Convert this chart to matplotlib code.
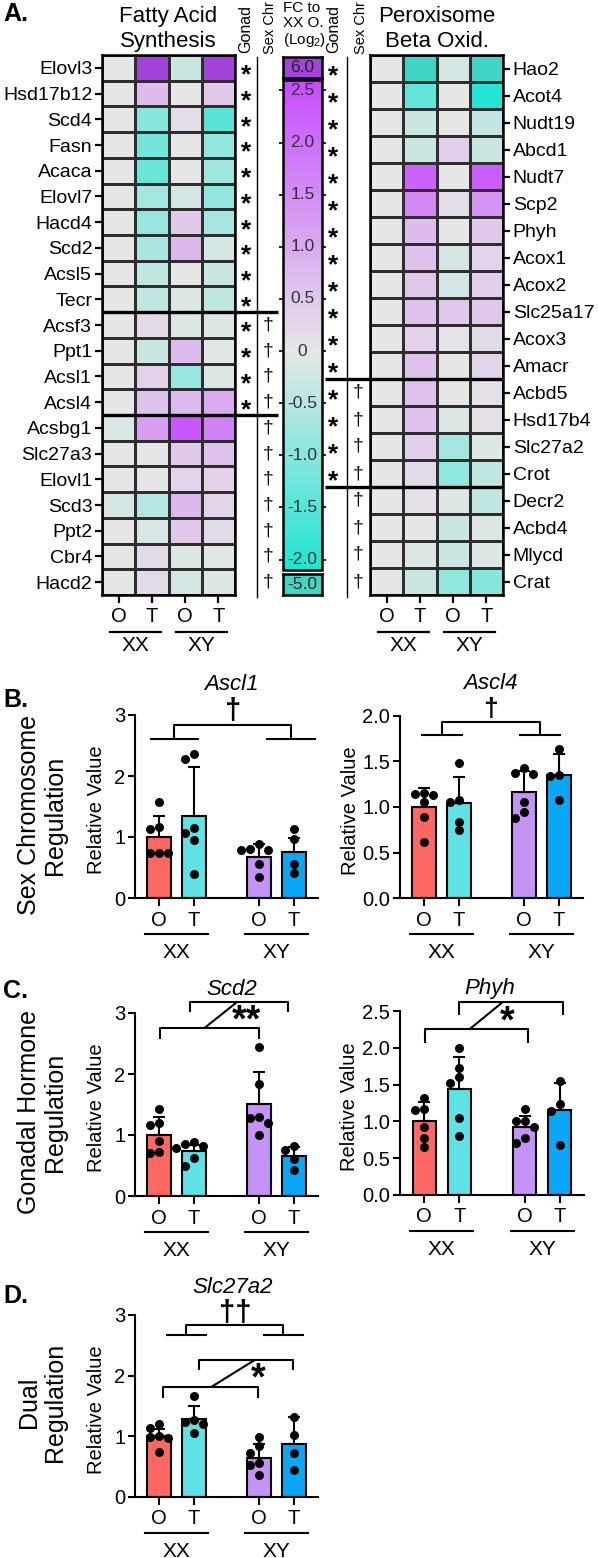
import numpy as np
import matplotlib
matplotlib.use("Agg")
import matplotlib.pyplot as plt
from matplotlib.colors import LinearSegmentedColormap, Normalize
from matplotlib.colorbar import Colorbar

plt.rcParams['font.family'] = ['Liberation Sans', 'DejaVu Sans']
plt.rcParams['mathtext.fontset'] = 'custom'
plt.rcParams['mathtext.rm'] = 'Liberation Sans'
plt.rcParams['mathtext.it'] = 'Liberation Sans:italic'

W, H = 598, 1558

# ---------------- data ----------------
treat_labels = ["O", "T", "O", "T"]
sex_labels = ["XX", "XY"]

fas_genes = ["Elovl3", "Hsd17b12", "Scd4", "Fasn", "Acaca", "Elovl7", "Hacd4",
             "Scd2", "Acsl5", "Tecr", "Acsf3", "Ppt1", "Acsl1", "Acsl4", "Acsbg1",
             "Slc27a3", "Elovl1", "Scd3", "Ppt2", "Cbr4", "Hacd2"]
# log2 FC to XX O  (columns: XX O, XX T, XY O, XY T)
fas_fc = [
    [0.0, 6.0, -0.3, 6.0],
    [0.0, 0.7, 0.0, 0.5],
    [0.0, -1.0, 0.15, -1.5],
    [0.0, -1.2, 0.0, -0.9],
    [0.0, -1.3, 0.0, -0.75],
    [0.0, -0.7, -0.2, -0.9],
    [0.0, -0.8, 0.5, -0.65],
    [0.0, -0.6, 0.8, -0.2],
    [0.0, -0.4, 0.0, -0.3],
    [0.0, -0.4, -0.1, -0.4],
    [0.0, 0.2, -0.1, -0.1],
    [0.0, -0.3, 0.7, -0.05],
    [0.0, 0.35, -0.8, -0.1],
    [0.0, 0.6, 0.7, 1.0],
    [-0.15, 1.2, 2.4, 1.7],
    [0.0, 0.0, 0.5, 0.6],
    [0.0, 0.0, 0.3, 0.35],
    [-0.2, -0.5, 0.8, 0.3],
    [0.0, -0.15, 0.5, 0.2],
    [0.0, 0.2, -0.1, -0.05],
    [0.0, 0.2, -0.2, -0.1],
]
fas_gonad = fas_genes[:14]
fas_sexchr = fas_genes[10:]

pbo_genes = ["Hao2", "Acot4", "Nudt19", "Abcd1", "Nudt7", "Scp2", "Phyh", "Acox1",
             "Acox2", "Slc25a17", "Acox3", "Amacr", "Acbd5", "Hsd17b4", "Slc27a2",
             "Crot", "Decr2", "Acbd4", "Mlycd", "Crat"]
pbo_fc = [
    [0.0, -5.0, -0.2, -5.0],
    [0.0, -1.4, 0.0, -2.05],
    [0.0, -0.3, 0.0, -0.4],
    [0.0, -0.3, 0.4, -0.3],
    [0.0, 2.2, 0.0, 2.3],
    [0.0, 1.6, 0.15, 1.4],
    [0.0, 0.7, 0.0, 0.5],
    [0.0, 0.6, -0.2, 0.3],
    [0.0, 0.5, -0.2, 0.4],
    [0.0, 0.6, 0.5, 0.5],
    [0.0, 0.35, 0.05, 0.2],
    [0.0, 0.6, 0.0, 0.3],
    [0.0, 0.6, 0.0, 0.1],
    [0.0, 0.6, -0.1, 0.1],
    [0.0, 0.4, -0.7, -0.1],
    [0.0, 0.2, -0.9, -0.4],
    [0.0, 0.1, -0.1, -0.4],
    [0.0, 0.0, -0.3, -0.1],
    [0.0, -0.1, -0.3, -0.1],
    [0.0, -0.3, -0.9, -1.0],
]
pbo_gonad = pbo_genes[:16]
pbo_sexchr = pbo_genes[12:]

cbar_ticks = [2.5, 2.0, 1.5, 1.0, 0.5, 0.0, -0.5, -1.0, -1.5, -2.0]
cbar_labels = ["2.5", "2.0", "1.5", "1.0", "0.5", "0", "-0.5", "-1.0", "-1.5", "-2.0"]
cbar_over_label = "6.0"
cbar_under_label = "-5.0"

# bar charts: points per group (XX O, XX T, XY O, XY T), mean, SD
ascl1_pts = [[1.57, 1.16, 1.13, 0.73, 0.73, 0.73],
             [2.36, 2.28, 1.14, 1.06, 0.95, 0.39],
             [0.88, 0.80, 0.78, 0.78, 0.56, 0.34],
             [1.13, 0.97, 0.56, 0.41]]
ascl1_mean = [1.0, 1.35, 0.68, 0.75]
ascl1_sd = [0.34, 0.79, 0.20, 0.23]

ascl4_pts = [[1.15, 1.14, 1.13, 1.05, 0.89, 0.62],
             [1.48, 1.08, 1.05, 0.84, 0.75],
             [1.43, 1.37, 1.36, 1.05, 0.95, 0.88],
             [1.64, 1.35, 1.34, 1.08]]
ascl4_mean = [1.0, 1.04, 1.17, 1.35]
ascl4_sd = [0.21, 0.29, 0.23, 0.23]

scd2_pts = [[1.42, 1.19, 1.16, 0.90, 0.72, 0.71],
            [0.88, 0.85, 0.82, 0.78, 0.63, 0.50],
            [2.45, 1.83, 1.30, 1.28, 1.20, 1.00],
            [0.82, 0.76, 0.60, 0.42]]
scd2_mean = [1.0, 0.74, 1.51, 0.65]
scd2_sd = [0.29, 0.10, 0.52, 0.15]

phyh_pts = [[1.32, 1.17, 1.16, 0.92, 0.78, 0.65],
            [2.00, 1.73, 1.60, 1.52, 1.04, 0.80],
            [1.17, 1.01, 1.00, 0.92, 0.78, 0.70],
            [1.55, 1.24, 1.14, 0.68]]
phyh_mean = [1.0, 1.44, 0.93, 1.15]
phyh_sd = [0.27, 0.44, 0.15, 0.37]

slc27a2_pts = [[1.21, 1.14, 1.00, 0.99, 0.98, 0.74],
               [1.67, 1.27, 1.24, 1.21, 1.06],
               [0.99, 0.84, 0.72, 0.56, 0.52, 0.36],
               [1.32, 1.03, 0.72, 0.44]]
slc27a2_mean = [1.0, 1.29, 0.65, 0.88]
slc27a2_sd = [0.12, 0.21, 0.23, 0.44]

bar_colors = ['#FF6762', '#5EE2E6', '#C592F7', '#0AA7F7']
xpos = np.array([0.0, 1.0, 2.857, 3.857])

# ---------------- helpers ----------------
cmap = LinearSegmentedColormap.from_list(
    'fc', [(0.0, '#1FE5D3'), (2.1 / 4.7, '#E6E6E6'), (1.0, '#C64CFF')])
cmap = cmap.with_extremes(over='#A244D9', under='#41D5C5')
norm = Normalize(vmin=-2.1, vmax=2.6)

fig = plt.figure(figsize=(W / 100, H / 100), dpi=100)


def box(l, t, w, h):
    return [l / W, 1 - (t + h) / H, w / W, h / H]


def ftext(x, y, s, **kw):
    fig.text(x / W, 1 - y / H, s, **kw)


def draw_heatmap(ax, genes, fc, gonad, sexchr, side):
    n = len(genes)
    ax.pcolormesh(np.asarray(fc, dtype=float), cmap=cmap, norm=norm,
                  edgecolors='#2e2e2e', linewidth=0.8)
    ax.set_xlim(0, 4)
    ax.set_ylim(n, 0)
    ax.set_yticks(np.arange(n) + 0.5)
    ax.set_yticklabels(genes, fontsize=14)
    ax.set_xticks(np.arange(4) + 0.5)
    ax.set_xticklabels(treat_labels, fontsize=14.5)
    ax.tick_params(axis='x', length=6, width=1.6, pad=3)
    ax.tick_params(axis='y', length=5, width=1.6, pad=2)
    for s in ax.spines.values():
        s.set_linewidth(1.8)
    if side == 'right':
        ax.yaxis.tick_right()
        star_x, line_x, dag_x, d0, d1 = -1.11, -0.69, -0.36, -1.35, 4.0
    else:
        star_x, line_x, dag_x, d0, d1 = 4.33, 4.66, 5.0, 0.0, 5.3
    for i, g in enumerate(genes):
        if g in gonad:
            ax.text(star_x, i + 0.8, '*', ha='center', va='center', fontsize=19,
                    fontweight='bold', clip_on=False)
        if g in sexchr:
            ax.text(dag_x, i + 0.5, '\u2020', ha='center', va='center', fontsize=14,
                    clip_on=False)
    ax.plot([line_x, line_x], [0.08, n + 0.08], color='black', lw=1.0, clip_on=False)
    pattern = [(g in gonad, g in sexchr) for g in genes]
    for i in range(1, n):
        if pattern[i] != pattern[i - 1]:
            ax.plot([d0, d1], [i, i], color='black', lw=2.4, clip_on=False,
                    solid_capstyle='butt')
    tr = ax.get_xaxis_transform()
    for c, lab in zip([1.0, 3.0], sex_labels):
        ax.plot([c - 0.76, c + 0.76], [-0.0685, -0.0685], color='black', lw=1.6,
                transform=tr, clip_on=False)
        ax.text(c, -0.094, lab, ha='center', va='center', fontsize=15, transform=tr)


def swarm(vals, px_y, px_x=35.0, diam=9.0):
    vals = np.asarray(vals)
    order = np.argsort(-vals, kind='stable')
    placed = []
    offs = np.zeros(len(vals))
    for i in order:
        y = vals[i] * px_y
        for k in [0, -1, 1, -2, 2, -3, 3]:
            x = k * diam
            if all((x - a) ** 2 + (y - b) ** 2 >= (diam * 0.9) ** 2 for a, b in placed):
                break
        placed.append((x, y))
        offs[i] = x / px_x
    return offs


def bar_panel(ax, pts, mean, sd, ymax, ystep, h_px, title, title_x, title_y):
    ax.bar(xpos, mean, width=0.66, color=bar_colors, edgecolor='black',
           linewidth=1.5, zorder=2)
    ax.errorbar(xpos, mean, yerr=[np.zeros(4), sd], fmt='none', ecolor='black',
                elinewidth=1.5, capsize=4, capthick=1.5, zorder=3)
    for xi, p in zip(xpos, pts):
        ax.scatter(xi + swarm(p, h_px / ymax), p, s=42, color='black', zorder=4,
                   clip_on=False, linewidths=0)
    ax.set_xlim(-0.686, 4.543)
    ax.set_ylim(0, ymax)
    ax.set_yticks(np.arange(0, ymax + 1e-9, ystep))
    ax.set_xticks(xpos)
    ax.set_xticklabels(treat_labels, fontsize=14.5)
    ax.tick_params(axis='y', labelsize=14.5, length=5, width=1.5, pad=2)
    ax.tick_params(axis='x', length=6, width=1.5, pad=3)
    for s in ['top', 'right']:
        ax.spines[s].set_visible(False)
    for s in ['left', 'bottom']:
        ax.spines[s].set_linewidth(1.5)
    tr = ax.get_xaxis_transform()
    for c, lab in zip([0.5, 3.357], sex_labels):
        ax.plot([c - 0.89, c + 0.89], [-0.197, -0.197], color='black', lw=1.5,
                transform=tr, clip_on=False)
        ax.text(c, -0.297, lab, ha='center', va='center', fontsize=15, transform=tr)
    ax.text(title_x, title_y, title, ha='center', va='center', fontsize=16,
            style='italic')


def line(ax, xs, ys):
    ax.plot(xs, ys, color='black', lw=1.5, clip_on=False, solid_capstyle='butt')


def sex_bracket(ax, left, right, y_low, y_high, mark, mark_y, size=21):
    line(ax, left, [y_low, y_low])
    line(ax, right, [y_low, y_low])
    lx, rx = np.mean(left), np.mean(right)
    line(ax, [lx, lx, rx, rx], [y_low, y_high, y_high, y_low])
    ax.text((lx + rx) / 2, mark_y, mark, ha='center', va='center', fontsize=size,
            fontweight='bold')


def gonad_bracket(ax, upper, yu, yu_leg, lower, yl, yl_leg, slash, mark, mark_xy):
    line(ax, [upper[0], upper[0], upper[1], upper[1]], [yu_leg, yu, yu, yu_leg])
    line(ax, [lower[0], lower[0], lower[1], lower[1]], [yl_leg, yl, yl, yl_leg])
    line(ax, [slash[0], slash[1]], [yl, yu])
    ax.text(mark_xy[0], mark_xy[1], mark, ha='center', va='center', fontsize=27,
            fontweight='bold')


# ---------------- panel A ----------------
ax_l = fig.add_axes(box(102, 55, 133, 540))
draw_heatmap(ax_l, fas_genes, fas_fc, fas_gonad, fas_sexchr, 'left')
ax_r = fig.add_axes(box(370, 55, 133, 540))
draw_heatmap(ax_r, pbo_genes, pbo_fc, pbo_gonad, pbo_sexchr, 'right')

cax = fig.add_axes(box(283, 80, 39, 490))
cb = Colorbar(cax, cmap=cmap, norm=norm, orientation='vertical')
cb.set_ticks(cbar_ticks)
cb.outline.set_linewidth(1.8)
cax.yaxis.set_ticks_position('both')
cax.tick_params(axis='y', which='both', direction='out', length=3, width=1.2,
                labelleft=False, labelright=False)
cax.minorticks_off()
for v, lab in zip(cbar_ticks, cbar_labels):
    cax.text(0.5, v, lab, ha='center', va='center', fontsize=12.5, color='#333333',
             transform=cax.get_yaxis_transform())

for t, lab, col in [(57, cbar_over_label, cmap.get_over()),
                    (574, cbar_under_label, cmap.get_under())]:
    bx = fig.add_axes(box(283, t, 39, 21))
    bx.set_facecolor(col)
    bx.set_xticks([])
    bx.set_yticks([])
    for s in bx.spines.values():
        s.set_linewidth(1.8)
    bx.text(0.5, 0.5, lab, ha='center', va='center', fontsize=12.5, color='#222222',
            transform=bx.transAxes)

ftext(3, 14, "A.", fontsize=18, fontweight='bold', va='center')
ftext(168, 29, "Fatty Acid\nSynthesis", fontsize=16, ha='center', va='center',
      linespacing=1.25)
ftext(437, 29, "Peroxisome\nBeta Oxid.", fontsize=16, ha='center', va='center',
      linespacing=1.25)
ftext(246, 53, "Gonad", fontsize=11.5, rotation=90, ha='center', va='bottom')
ftext(270, 54, "Sex Chr", fontsize=10.5, rotation=90, ha='center', va='bottom')
ftext(334, 53, "Gonad", fontsize=11.5, rotation=90, ha='center', va='bottom')
ftext(361, 54, "Sex Chr", fontsize=10.5, rotation=90, ha='center', va='bottom')
ftext(283, 1, "FC to\nXX O.\n(Log$_2$)", fontsize=11, ha='left', va='top',
      linespacing=1.1)

# ---------------- panel B ----------------
axb1 = fig.add_axes(box(135, 715, 183, 183))
bar_panel(axb1, ascl1_pts, ascl1_mean, ascl1_sd, 3, 1, 183, "Ascl1", 2.07, 3.5)
sex_bracket(axb1, [-0.26, 1.14], [3.06, 4.49], 2.6, 2.84, '\u2020', 3.07)

axb2 = fig.add_axes(box(400, 716, 183, 182))
bar_panel(axb2, ascl4_pts, ascl4_mean, ascl4_sd, 2.0, 0.5, 182, "Ascl4", 1.9, 2.36)
sex_bracket(axb2, [-0.09, 1.11], [2.71, 3.91], 1.79, 1.93, '\u2020', 2.08, size=19)

# ---------------- panel C ----------------
axc1 = fig.add_axes(box(135, 1013, 183, 183))
bar_panel(axc1, scd2_pts, scd2_mean, scd2_sd, 3, 1, 183, "Scd2", 2.09, 3.38)
gonad_bracket(axc1, [0.89, 3.69], 3.18, 3.02, [0.03, 2.86], 2.75, 2.57,
              [1.29, 2.23], '**', (2.5, 2.86))

axc2 = fig.add_axes(box(400, 1011, 184, 184))
bar_panel(axc2, phyh_pts, phyh_mean, phyh_sd, 2.5, 0.5, 184, "Phyh", 1.87, 2.81)
gonad_bracket(axc2, [1.0, 3.94], 2.62, 2.45, [0.03, 2.94], 2.26, 2.07,
              [1.31, 2.23], '*', (2.36, 2.35))

# ---------------- panel D ----------------
axd = fig.add_axes(box(135, 1315, 183, 182))
bar_panel(axd, slc27a2_pts, slc27a2_mean, slc27a2_sd, 3, 1, 182, "Slc27a2", 2.09, 3.46)
sex_bracket(axd, [0.2, 1.37], [2.97, 4.14], 2.67, 2.84, '\u2020\u2020', 3.04)
gonad_bracket(axd, [1.14, 3.83], 2.26, 2.1, [0.11, 2.83], 1.82, 1.64,
              [1.51, 2.74], '*', (2.82, 1.94))

# y labels and side labels
for ax in [axb1, axc1, axd]:
    ax.text(-0.208, 0.48, "Relative Value", rotation=90, ha='center', va='center',
            fontsize=14.5, transform=ax.transAxes)
for ax in [axb2, axc2]:
    ax.text(-0.273, 0.48, "Relative Value", rotation=90, ha='center', va='center',
            fontsize=14.5, transform=ax.transAxes)

ftext(3, 700, "B.", fontsize=18, fontweight='bold', va='center')
ftext(3, 991, "C.", fontsize=18, fontweight='bold', va='center')
ftext(3, 1296, "D.", fontsize=18, fontweight='bold', va='center')
ftext(42, 815, "Sex Chromosome\nRegulation", fontsize=18, rotation=90,
      ha='center', va='center', linespacing=1.1, multialignment='center')
ftext(42, 1112, "Gonadal Hormone\nRegulation", fontsize=18, rotation=90,
      ha='center', va='center', linespacing=1.1, multialignment='center')
ftext(42, 1402, "Dual\nRegulation", fontsize=18, rotation=90,
      ha='center', va='center', linespacing=1.1, multialignment='center')

fig.savefig("out.png", dpi=100)
